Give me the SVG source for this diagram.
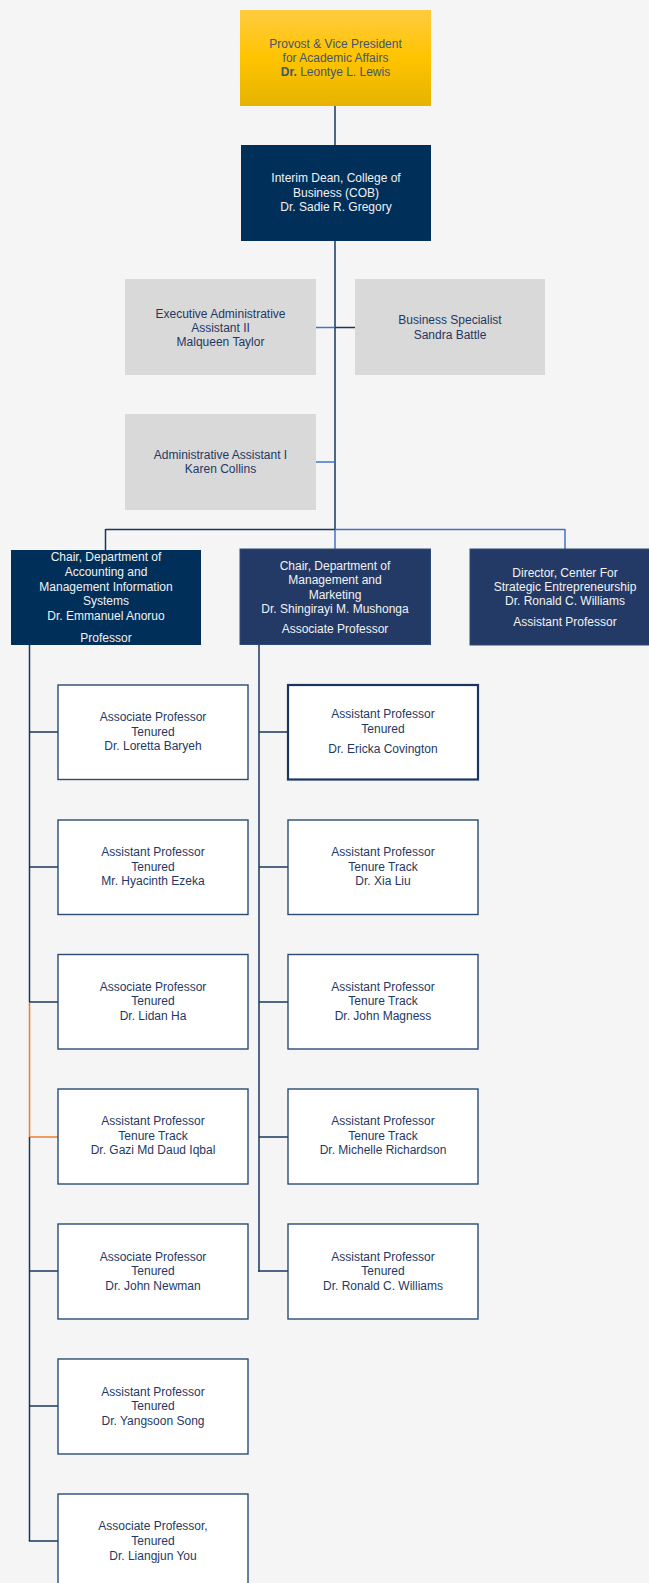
<svg xmlns="http://www.w3.org/2000/svg" width="649" height="1583" viewBox="0 0 649 1583">
<defs>
<linearGradient id="gold" x1="0" y1="0" x2="0" y2="1">
<stop offset="0" stop-color="#FFCB40"/>
<stop offset="0.5" stop-color="#FFC400"/>
<stop offset="1" stop-color="#E7B300"/>
</linearGradient>
<style>
text{font-family:"Liberation Sans",Arial,sans-serif;font-size:12px;text-anchor:middle}
.dk{fill:#1F3864}
.wt{fill:#F2F2F2}
.pv{fill:#44546A}
.gray{fill:#D9D9D9}
.navy1{fill:#002F5A}
.navy2{fill:#243A66;stroke:#2E4A7A;stroke-width:1}
.wb{fill:#FFFFFF;stroke:#2A4C72;stroke-width:1.4}
.wbk{fill:#FFFFFF;stroke:#1A3560;stroke-width:2.2}
.ln{stroke:#17375E;stroke-width:1.5;fill:none}
.lb{stroke:#4472C4;stroke-width:1.5;fill:none}
.or{stroke:#ED7D31;stroke-width:1.5;fill:none}
</style>
</defs>
<rect x="0" y="0" width="649" height="1583" fill="#F5F5F5"/>

<g id="connectors">
<line class="ln" x1="335" y1="106" x2="335" y2="145"/>
<line class="ln" x1="335" y1="241" x2="335" y2="529.5"/>
<line class="lb" x1="316" y1="327.5" x2="335" y2="327.5"/>
<line class="ln" x1="335" y1="327.5" x2="355" y2="327.5"/>
<line class="lb" x1="316" y1="462" x2="335" y2="462"/>
<line class="ln" x1="105.5" y1="529.5" x2="335" y2="529.5"/>
<line class="lb" x1="335" y1="529.5" x2="565" y2="529.5"/>
<line class="ln" x1="105.5" y1="529" x2="105.5" y2="550"/>
<line class="lb" x1="335" y1="530" x2="335" y2="549"/>
<line class="lb" x1="565" y1="529" x2="565" y2="549"/>
<line class="ln" x1="29.5" y1="645" x2="29.5" y2="1002"/>
<line class="or" x1="29.5" y1="1002" x2="29.5" y2="1137"/>
<line class="ln" x1="29.5" y1="1137" x2="29.5" y2="1541"/>
<line class="ln" x1="29.5" y1="732" x2="58" y2="732"/>
<line class="ln" x1="29.5" y1="867" x2="58" y2="867"/>
<line class="ln" x1="29.5" y1="1002" x2="58" y2="1002"/>
<line class="or" x1="30" y1="1137" x2="58" y2="1137"/>
<line class="ln" x1="29.5" y1="1271" x2="58" y2="1271"/>
<line class="ln" x1="29.5" y1="1406" x2="58" y2="1406"/>
<line class="ln" x1="28.75" y1="1541" x2="58" y2="1541"/>
<line class="ln" x1="259" y1="644" x2="259" y2="1271.75"/>
<line class="ln" x1="259" y1="732" x2="288" y2="732"/>
<line class="ln" x1="259" y1="867" x2="288" y2="867"/>
<line class="ln" x1="259" y1="1002" x2="288" y2="1002"/>
<line class="ln" x1="259" y1="1137" x2="288" y2="1137"/>
<line class="ln" x1="258.25" y1="1271" x2="288" y2="1271"/>
</g>

<g id="provost">
<rect x="240" y="10" width="191" height="96" fill="url(#gold)"/>
<text class="pv" x="335.5" y="47.5">Provost &amp; Vice President</text>
<text class="pv" x="335.5" y="61.8">for Academic Affairs</text>
<text class="pv" x="335.5" y="76"><tspan font-weight="bold">Dr.</tspan> Leontye L. Lewis</text>
</g>

<g id="dean">
<rect class="navy1" x="241" y="145" width="190" height="96"/>
<text class="wt" x="336" y="182">Interim Dean, College of</text>
<text class="wt" x="336" y="196.5">Business (COB)</text>
<text class="wt" x="336" y="211">Dr. Sadie R. Gregory</text>
</g>

<g id="exec-admin">
<rect class="gray" x="125" y="279" width="191" height="96"/>
<text class="dk" x="220.5" y="317.5">Executive Administrative</text>
<text class="dk" x="220.5" y="331.8">Assistant II</text>
<text class="dk" x="220.5" y="346">Malqueen Taylor</text>
</g>

<g id="business-specialist">
<rect class="gray" x="355" y="279" width="190" height="96"/>
<text class="dk" x="450" y="324.2">Business Specialist</text>
<text class="dk" x="450" y="338.5">Sandra Battle</text>
</g>

<g id="admin-assistant">
<rect class="gray" x="125" y="414" width="191" height="96"/>
<text class="dk" x="220.5" y="459">Administrative Assistant I</text>
<text class="dk" x="220.5" y="473.3">Karen Collins</text>
</g>

<g id="chair-accounting">
<rect class="navy1" x="11" y="550" width="190" height="95"/>
<text class="wt" x="106" y="561">Chair, Department of</text>
<text class="wt" x="106" y="576">Accounting and</text>
<text class="wt" x="106" y="591">Management Information</text>
<text class="wt" x="106" y="605.3">Systems</text>
<text class="wt" x="106" y="620.3">Dr. Emmanuel Anoruo</text>
<text class="wt" x="106" y="641.5">Professor</text>
</g>

<g id="chair-management">
<rect class="navy2" x="240" y="549" width="190.5" height="95.5"/>
<text class="wt" x="335" y="569.6">Chair, Department of</text>
<text class="wt" x="335" y="584">Management and</text>
<text class="wt" x="335" y="598.6">Marketing</text>
<text class="wt" x="335" y="613.2">Dr. Shingirayi M. Mushonga</text>
<text class="wt" x="335" y="633.3">Associate Professor</text>
</g>

<g id="director-cse">
<rect class="navy2" x="470" y="549" width="190" height="96"/>
<text class="wt" x="565" y="576.5">Director, Center For</text>
<text class="wt" x="565" y="591">Strategic Entrepreneurship</text>
<text class="wt" x="565" y="605.3">Dr. Ronald C. Williams</text>
<text class="wt" x="565" y="626.3">Assistant Professor</text>
</g>

<g id="baryeh">
<rect class="wb" x="58" y="685" width="190" height="94.5"/>
<text class="dk" x="153" y="721">Associate Professor</text>
<text class="dk" x="153" y="735.8">Tenured</text>
<text class="dk" x="153" y="750">Dr. Loretta Baryeh</text>
</g>
<g id="ezeka">
<rect class="wb" x="58" y="820" width="190" height="94.5"/>
<text class="dk" x="153" y="856">Assistant Professor</text>
<text class="dk" x="153" y="870.8">Tenured</text>
<text class="dk" x="153" y="885">Mr. Hyacinth Ezeka</text>
</g>
<g id="ha">
<rect class="wb" x="58" y="954.5" width="190" height="94.5"/>
<text class="dk" x="153" y="990.5">Associate Professor</text>
<text class="dk" x="153" y="1005.3">Tenured</text>
<text class="dk" x="153" y="1019.5">Dr. Lidan Ha</text>
</g>
<g id="iqbal">
<rect class="wb" x="58" y="1089" width="190" height="95"/>
<text class="dk" x="153" y="1125">Assistant Professor</text>
<text class="dk" x="153" y="1140">Tenure Track</text>
<text class="dk" x="153" y="1154">Dr. Gazi Md Daud Iqbal</text>
</g>
<g id="newman">
<rect class="wb" x="58" y="1224" width="190" height="95"/>
<text class="dk" x="153" y="1260.5">Associate Professor</text>
<text class="dk" x="153" y="1275">Tenured</text>
<text class="dk" x="153" y="1289.5">Dr. John Newman</text>
</g>
<g id="song">
<rect class="wb" x="58" y="1359" width="190" height="95"/>
<text class="dk" x="153" y="1395.5">Assistant Professor</text>
<text class="dk" x="153" y="1410">Tenured</text>
<text class="dk" x="153" y="1424.5">Dr. Yangsoon Song</text>
</g>
<g id="you">
<rect class="wb" x="58" y="1494" width="190" height="95"/>
<text class="dk" x="153" y="1530">Associate Professor,</text>
<text class="dk" x="153" y="1545">Tenured</text>
<text class="dk" x="153" y="1559.5">Dr. Liangjun You</text>
</g>

<g id="covington">
<rect class="wbk" x="288" y="685" width="190" height="94.5"/>
<text class="dk" x="383" y="717.8">Assistant Professor</text>
<text class="dk" x="383" y="732.8">Tenured</text>
<text class="dk" x="383" y="753">Dr. Ericka Covington</text>
</g>
<g id="liu">
<rect class="wb" x="288" y="820" width="190" height="94.5"/>
<text class="dk" x="383" y="856">Assistant Professor</text>
<text class="dk" x="383" y="870.8">Tenure Track</text>
<text class="dk" x="383" y="885">Dr. Xia Liu</text>
</g>
<g id="magness">
<rect class="wb" x="288" y="954.5" width="190" height="94.5"/>
<text class="dk" x="383" y="990.5">Assistant Professor</text>
<text class="dk" x="383" y="1005.3">Tenure Track</text>
<text class="dk" x="383" y="1019.5">Dr. John Magness</text>
</g>
<g id="richardson">
<rect class="wb" x="288" y="1089" width="190" height="95"/>
<text class="dk" x="383" y="1125">Assistant Professor</text>
<text class="dk" x="383" y="1140">Tenure Track</text>
<text class="dk" x="383" y="1154">Dr. Michelle Richardson</text>
</g>
<g id="williams">
<rect class="wb" x="288" y="1224" width="190" height="95"/>
<text class="dk" x="383" y="1260.5">Assistant Professor</text>
<text class="dk" x="383" y="1275">Tenured</text>
<text class="dk" x="383" y="1289.5">Dr. Ronald C. Williams</text>
</g>
</svg>
